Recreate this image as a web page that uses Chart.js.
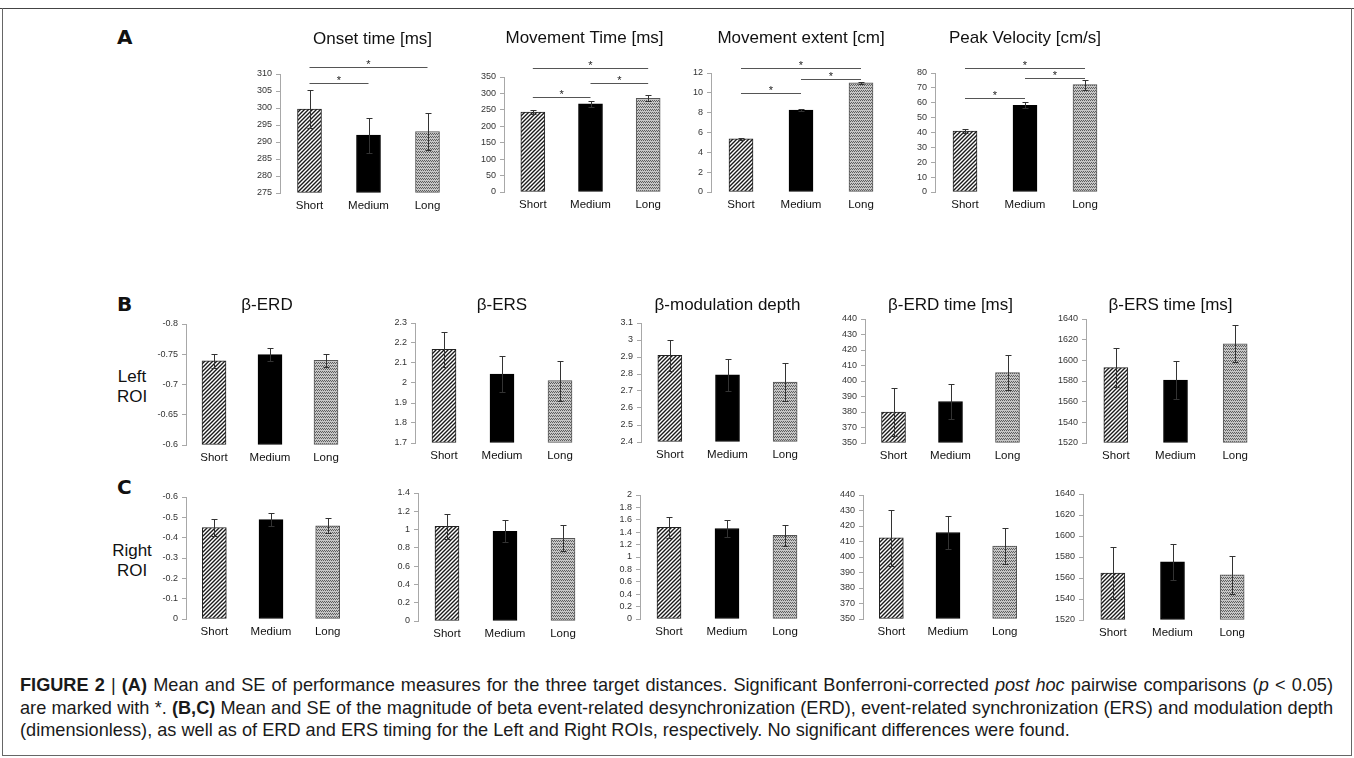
<!DOCTYPE html>
<html>
<head>
<meta charset="utf-8">
<script src="https://cdn.jsdelivr.net/npm/chart.js@4.4.0/dist/chart.umd.min.js"></script>
<style>
  body { margin:0; width:1354px; height:758px; background:#fff; position:relative; overflow:hidden;
         font-family:"Liberation Sans", Arial, sans-serif; color:#111; }
  canvas { position:absolute; }
  .lbl { position:absolute; font-family:"DejaVu Sans", sans-serif; font-weight:bold; font-size:20px; line-height:20px; }
  .roi { position:absolute; width:80px; text-align:center; font-size:17px; line-height:20px; }
  #rule { position:absolute; left:0; top:8px; width:1354px; height:0; border-top:1px solid #444; }
  #frame { position:absolute; left:2px; top:8px; width:1348px; height:747px; border:1px solid #666; border-top:none; }
  #cap { position:absolute; left:20px; top:674px; color:#1a1a1a; }
  #cap .ln { white-space:nowrap; height:22.5px; line-height:22.5px; }
  #cap .j { width:1313px; text-align:justify; text-align-last:justify; }
</style>
</head>
<body>
<div id="rule"></div>
<div id="frame"></div>

<div class="lbl" style="left:117px;top:27px">A</div>
<div class="lbl" style="left:117px;top:294px">B</div>
<div class="lbl" style="left:117px;top:477px">C</div>
<div class="roi" style="left:92px;top:367px">Left<br>ROI</div>
<div class="roi" style="left:92px;top:541px">Right<br>ROI</div>

<div id="cap">
  <div class="ln j"><b>FIGURE 2</b> | <b>(A)</b> Mean and SE of performance measures for the three target distances. Significant Bonferroni-corrected <i>post hoc</i> pairwise comparisons (<i>p</i> &lt; 0.05)</div>
  <div class="ln j">are marked with *. <b>(B,C)</b> Mean and SE of the magnitude of beta event-related desynchronization (ERD), event-related synchronization (ERS) and modulation depth</div>
  <div class="ln">(dimensionless), as well as of ERD and ERS timing for the Left and Right ROIs, respectively. No significant differences were found.</div>
</div>

<script>
const categories = ['Short', 'Medium', 'Long'];

// (A) performance measures
const onsetMean = [299.7, 292.0, 293.1];
const onsetSE = [5.6, 5.2, 5.5];
const onsetTicks = [275, 280, 285, 290, 295, 300, 305, 310];
const onsetSig = [[0, 2, 312.1], [0, 1, 307.4]];

const mtMean = [243, 268, 285];
const mtSE = [7, 8, 9];
const mtTicks = [0, 50, 100, 150, 200, 250, 300, 350];
const mtSig = [[0, 2, 378], [1, 2, 333], [0, 1, 288]];

const extMean = [5.35, 8.27, 11.02];
const extSE = [0.08, 0.1, 0.1];
const extTicks = [0, 2, 4, 6, 8, 10, 12];
const extSig = [[0, 2, 12.5], [1, 2, 11.4], [0, 1, 10.0]];

const pvMean = [41.0, 58.2, 72.2];
const pvSE = [1.5, 2.0, 3.3];
const pvTicks = [0, 10, 20, 30, 40, 50, 60, 70, 80];
const pvSig = [[0, 2, 83.3], [1, 2, 76.9], [0, 1, 63.5]];

// (B) left ROI
const erdL = [-0.739, -0.7495, -0.740];
const erdLSE = [0.012, 0.011, 0.011];
const erdLTicks = [-0.8, -0.75, -0.7, -0.65, -0.6];

const ersL = [2.168, 2.045, 2.012];
const ersLSE = [0.088, 0.09, 0.1];
const ersLTicks = [1.7, 1.8, 1.9, 2, 2.1, 2.2, 2.3];

const modL = [2.91, 2.795, 2.752];
const modLSE = [0.09, 0.095, 0.11];
const modLTicks = [2.4, 2.5, 2.6, 2.7, 2.8, 2.9, 3, 3.1];

const erdTimeL = [380, 386.8, 405.4];
const erdTimeLSE = [15.5, 11, 11.5];
const erdTimeTicks = [360, 370, 380, 390, 400, 410, 420, 430, 440];
const erdTimeTickLabels = ['350', '370', '380', '390', '400', '410', '420', '430', '440'];

const ersTimeL = [1593, 1581, 1616];
const ersTimeLSE = [19, 18, 18];
const ersTimeTicks = [1520, 1540, 1560, 1580, 1600, 1620, 1640];

// (C) right ROI
const erdR = [-0.45, -0.489, -0.458];
const erdRSE = [0.042, 0.032, 0.037];
const erdRTicks = [-0.6, -0.5, -0.4, -0.3, -0.2, -0.1, 0];

const ersR = [1.036, 0.98, 0.905];
const ersRSE = [0.135, 0.12, 0.14];
const ersRTicks = [0, 0.2, 0.4, 0.6, 0.8, 1, 1.2, 1.4];

const modR = [1.48, 1.46, 1.35];
const modRSE = [0.17, 0.14, 0.17];
const modRTicks = [0, 0.2, 0.4, 0.6, 0.8, 1, 1.2, 1.4, 1.6, 1.8, 2];

const erdTimeR = [412.3, 415.8, 407];
const erdTimeRSE = [18, 10.8, 11.4];

const ersTimeR = [1564.8, 1575.5, 1563];
const ersTimeRSE = [24.7, 17, 18];

// layout constants
const AX = 44, TOP = 52, BOT = 26;
const FONT = '"Liberation Sans", Arial, sans-serif';

function hatchPattern() {
  const c = document.createElement('canvas');
  c.width = 4; c.height = 4;
  const g = c.getContext('2d');
  g.fillStyle = '#fff'; g.fillRect(0, 0, 4, 4);
  g.strokeStyle = '#1a1a1a'; g.lineWidth = 1.4;
  g.beginPath();
  g.moveTo(-1, 5); g.lineTo(5, -1);
  g.moveTo(-1, 1); g.lineTo(1, -1);
  g.moveTo(3, 5); g.lineTo(5, 3);
  g.stroke();
  return g.createPattern(c, 'repeat');
}
function zigzagPattern() {
  const c = document.createElement('canvas');
  c.width = 4; c.height = 3;
  const g = c.getContext('2d');
  g.fillStyle = '#c6c6c6'; g.fillRect(0, 0, 4, 3);
  g.fillStyle = '#5e5e5e';
  [[0, 0], [2, 0], [1, 1], [3, 1]].forEach(p => g.fillRect(p[0], p[1], 1, 1));
  return g.createPattern(c, 'repeat');
}
const fills = [hatchPattern(), '#000', zigzagPattern()];
const borders = ['#222', '#000', '#555'];

const errorBars = {
  id: 'errorBars',
  afterDatasetsDraw(chart, args, o) {
    const ctx = chart.ctx, y = chart.scales.y;
    const vals = chart.data.datasets[0].data;
    ctx.save();
    ctx.strokeStyle = '#333'; ctx.lineWidth = 1;
    chart.getDatasetMeta(0).data.forEach((bar, i) => {
      const x = Math.round(bar.x) + 0.5;
      const y1 = Math.round(y.getPixelForValue(vals[i] - o.se[i])) + 0.5;
      const y2 = Math.round(y.getPixelForValue(vals[i] + o.se[i])) + 0.5;
      ctx.beginPath();
      ctx.moveTo(x, y1); ctx.lineTo(x, y2);
      ctx.moveTo(x - 3, y1); ctx.lineTo(x + 3, y1);
      ctx.moveTo(x - 3, y2); ctx.lineTo(x + 3, y2);
      ctx.stroke();
    });
    ctx.restore();
  }
};

const sigBars = {
  id: 'sigBars',
  afterDatasetsDraw(chart, args, o) {
    if (!o.pairs) return;
    const ctx = chart.ctx, y = chart.scales.y, bars = chart.getDatasetMeta(0).data;
    ctx.save();
    ctx.strokeStyle = '#555'; ctx.fillStyle = '#222'; ctx.lineWidth = 1;
    ctx.font = '11px ' + FONT; ctx.textAlign = 'center'; ctx.textBaseline = 'alphabetic';
    o.pairs.forEach(p => {
      const x1 = bars[p[0]].x, x2 = bars[p[1]].x;
      const ly = Math.round(y.getPixelForValue(p[2])) + 0.5;
      ctx.beginPath(); ctx.moveTo(x1, ly); ctx.lineTo(x2, ly); ctx.stroke();
      ctx.fillText('*', (x1 + x2) / 2, ly + 0.5);
    });
    ctx.restore();
  }
};

const panelTitle = {
  id: 'panelTitle',
  afterDraw(chart, args, o) {
    if (!o.text) return;
    const ctx = chart.ctx, a = chart.chartArea;
    ctx.save();
    ctx.font = '17px ' + FONT; ctx.fillStyle = '#111';
    ctx.textAlign = 'center'; ctx.textBaseline = 'middle';
    ctx.fillText(o.text, (a.left + a.right) / 2 + (o.dx || 0), o.y);
    ctx.restore();
  }
};

function drawPanel(p) {
  const plotH = Math.round(p.bottom - p.top);
  const w = Math.round(p.w);
  const left = Math.round(p.axisX - AX), top = Math.round(p.top - TOP);
  const c = document.createElement('canvas');
  c.width = AX + w + AX; c.height = TOP + plotH + BOT;
  c.style.left = left + 'px'; c.style.top = top + 'px';
  document.body.appendChild(c);

  const ticks = p.ticks;
  const lo = ticks[0], hi = ticks[ticks.length - 1];
  new Chart(c, {
    type: 'bar',
    data: {
      labels: categories,
      datasets: [{
        data: p.mean,
        base: p.reverse ? hi : lo,
        backgroundColor: fills,
        borderColor: borders,
        borderWidth: 1,
        borderSkipped: false,
        barThickness: 24
      }]
    },
    options: {
      responsive: false,
      animation: false,
      layout: { padding: { top: TOP, right: AX, bottom: 0, left: 0 } },
      plugins: {
        legend: { display: false },
        tooltip: { enabled: false },
        errorBars: { se: p.se },
        sigBars: { pairs: p.sig },
        panelTitle: { text: p.title, y: p.titleY - top, dx: p.dx }
      },
      scales: {
        x: {
          grid: { display: false, drawTicks: false },
          border: { display: false },
          ticks: { font: { family: FONT, size: 11.5 }, color: '#111', padding: 6, maxRotation: 0, autoSkip: false },
          afterFit: s => { s.height = BOT; }
        },
        y: {
          min: lo, max: hi, reverse: !!p.reverse,
          afterBuildTicks: s => { s.ticks = ticks.map(v => ({ value: v })); },
          afterFit: s => { s.width = AX; },
          grid: { drawOnChartArea: false, drawTicks: true, tickLength: 4, color: '#a8a8a8' },
          border: { display: true, color: '#a8a8a8' },
          ticks: {
            font: { family: FONT, size: 9 }, color: '#333', padding: 4, autoSkip: false,
            callback: (v, i) => p.tickLabels ? p.tickLabels[i] : String(ticks[i])
          }
        }
      }
    },
    plugins: [errorBars, sigBars, panelTitle]
  });
}

const panels = [
  { title: 'Onset time [ms]', titleY: 39, dx: 4, mean: onsetMean, se: onsetSE, ticks: onsetTicks, sig: onsetSig, axisX: 280, top: 74, bottom: 193, w: 177 },
  { title: 'Movement Time [ms]', titleY: 38, dx: -6, mean: mtMean, se: mtSE, ticks: mtTicks, sig: mtSig, axisX: 504, top: 77, bottom: 192, w: 172.5 },
  { title: 'Movement extent [cm]', titleY: 38, mean: extMean, se: extSE, ticks: extTicks, sig: extSig, axisX: 711, top: 73, bottom: 192, w: 180 },
  { title: 'Peak Velocity [cm/s]', titleY: 38, mean: pvMean, se: pvSE, ticks: pvTicks, sig: pvSig, axisX: 935, top: 73, bottom: 192, w: 180 },

  { title: 'β-ERD', titleY: 305, dx: -3, mean: erdL, se: erdLSE, ticks: erdLTicks, reverse: true, axisX: 186, top: 324, bottom: 445, w: 168 },
  { title: 'β-ERS', titleY: 305, mean: ersL, se: ersLSE, ticks: ersLTicks, axisX: 415, top: 323, bottom: 443, w: 174 },
  { title: 'β-modulation depth', titleY: 305, mean: modL, se: modLSE, ticks: modLTicks, axisX: 641, top: 323, bottom: 442, w: 172.5 },
  { title: 'β-ERD time [ms]', titleY: 305, mean: erdTimeL, se: erdTimeLSE, ticks: erdTimeTicks, tickLabels: erdTimeTickLabels, axisX: 865, top: 319, bottom: 443, w: 171 },
  { title: 'β-ERS time [ms]', titleY: 305, dx: -5, mean: ersTimeL, se: ersTimeLSE, ticks: ersTimeTicks, axisX: 1086, top: 319, bottom: 443, w: 178.5 },

  { mean: erdR, se: erdRSE, ticks: erdRTicks, reverse: true, axisX: 186, top: 497, bottom: 619, w: 170 },
  { mean: ersR, se: ersRSE, ticks: ersRTicks, axisX: 418, top: 493, bottom: 621, w: 174 },
  { mean: modR, se: modRSE, ticks: modRTicks, axisX: 640, top: 495, bottom: 619, w: 174 },
  { mean: erdTimeR, se: erdTimeRSE, ticks: erdTimeTicks, tickLabels: erdTimeTickLabels, axisX: 863, top: 495, bottom: 619, w: 170 },
  { mean: ersTimeR, se: ersTimeRSE, ticks: ersTimeTicks, axisX: 1083, top: 494, bottom: 620, w: 178.5 }
];
panels.forEach(drawPanel);

// fit the caption size so the two justified lines span the same width as in the original
const cap = document.getElementById('cap');
cap.style.fontSize = '100px';
let widest = 0;
cap.querySelectorAll('.ln').forEach(ln => {
  const s = document.createElement('span');
  while (ln.firstChild) s.appendChild(ln.firstChild);
  ln.appendChild(s);
  if (ln.classList.contains('j')) widest = Math.max(widest, s.getBoundingClientRect().width);
});
cap.style.fontSize = (100 * 1310 / widest).toFixed(2) + 'px';
</script>
</body>
</html>
